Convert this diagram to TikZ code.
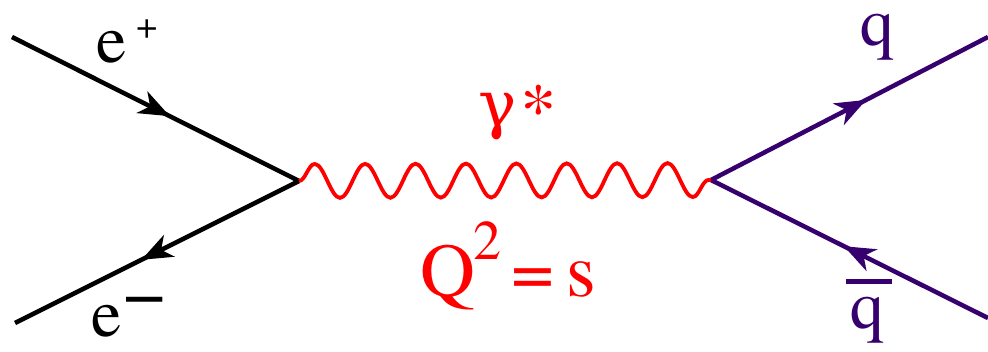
\documentclass[tikz,border=0pt]{standalone}
\usepackage{fontspec}
\setmainfont{texgyretermes}[Extension=.otf, UprightFont=*-regular, BoldFont=*-bold, ItalicFont=*-italic, BoldItalicFont=*-bolditalic]
\newfontfamily\tnr{texgyretermes}[Extension=.otf, UprightFont=*-regular]
\newfontfamily\grk{DejaVu Serif}
\usetikzlibrary{arrows.meta,decorations.markings,decorations.pathmorphing}
\definecolor{qpurple}{RGB}{54,0,110}
\begin{document}
\begin{tikzpicture}[x=1pt,y=-1pt,
  fermion/.style={line width=4.5pt, postaction={decorate},
    decoration={markings, mark=at position #1 with {\arrow{Stealth[length=31pt,width=24pt,inset=9pt]}}}},
  photon/.style={red, line width=3.8pt, decorate,
    decoration={snake, segment length=50.4pt, amplitude=17pt}},
  lbl/.style={inner sep=0pt, anchor=base west},
  big/.style={font=\tnr\fontsize{68}{80}\selectfont}]
\useasboundingbox (0,0) rectangle (988,352);
% vertices and outer ends
\coordinate (v1) at (299,181);
\coordinate (v2) at (711,180);
\coordinate (a) at (12,37);
\coordinate (b) at (15,323);
\coordinate (c) at (988,37);
\coordinate (d) at (988,318);
% fermion lines
\draw[fermion=0.55] (a) -- (v1);
\draw[fermion=0.555] (v1) -- (b);
\draw[qpurple, fermion=0.56] (v2) -- (c);
\draw[qpurple, fermion=0.52] (d) -- (v2);
% photon
\draw[photon] (v1) -- (v2);
% labels
\node[lbl, big] (ep) at (96,63) {e\hspace{10pt}\raisebox{24pt}{\fontsize{38}{40}\selectfont +}};
\node[lbl, big] (em) at (91,337) {e\hspace{2pt}\raisebox{18pt}{\fontsize{75}{80}\selectfont −}};
\node[lbl, big, text=qpurple] (q) at (860,46) {q};
\node[lbl, big, text=qpurple] (qb) at (850,329) {\makebox[0pt][l]{\hspace{-4pt}\raisebox{45pt}{\rule{46pt}{5pt}}}q};
\node[lbl, text=red, font=\tnr\fontsize{73}{80}\selectfont] (g) at (478,127) {{\grk\fontsize{64}{70}\selectfont γ}\hspace{4pt}\raisebox{-8pt}{*}};
\node[lbl, text=red, font=\tnr\fontsize{76}{80}\selectfont] (Q) at (420,297) {Q\hspace{-2pt}\raisebox{37pt}{\fontsize{56}{60}\selectfont 2}\hspace{10pt}=\hspace{13pt}s};
\end{tikzpicture}
\end{document}
